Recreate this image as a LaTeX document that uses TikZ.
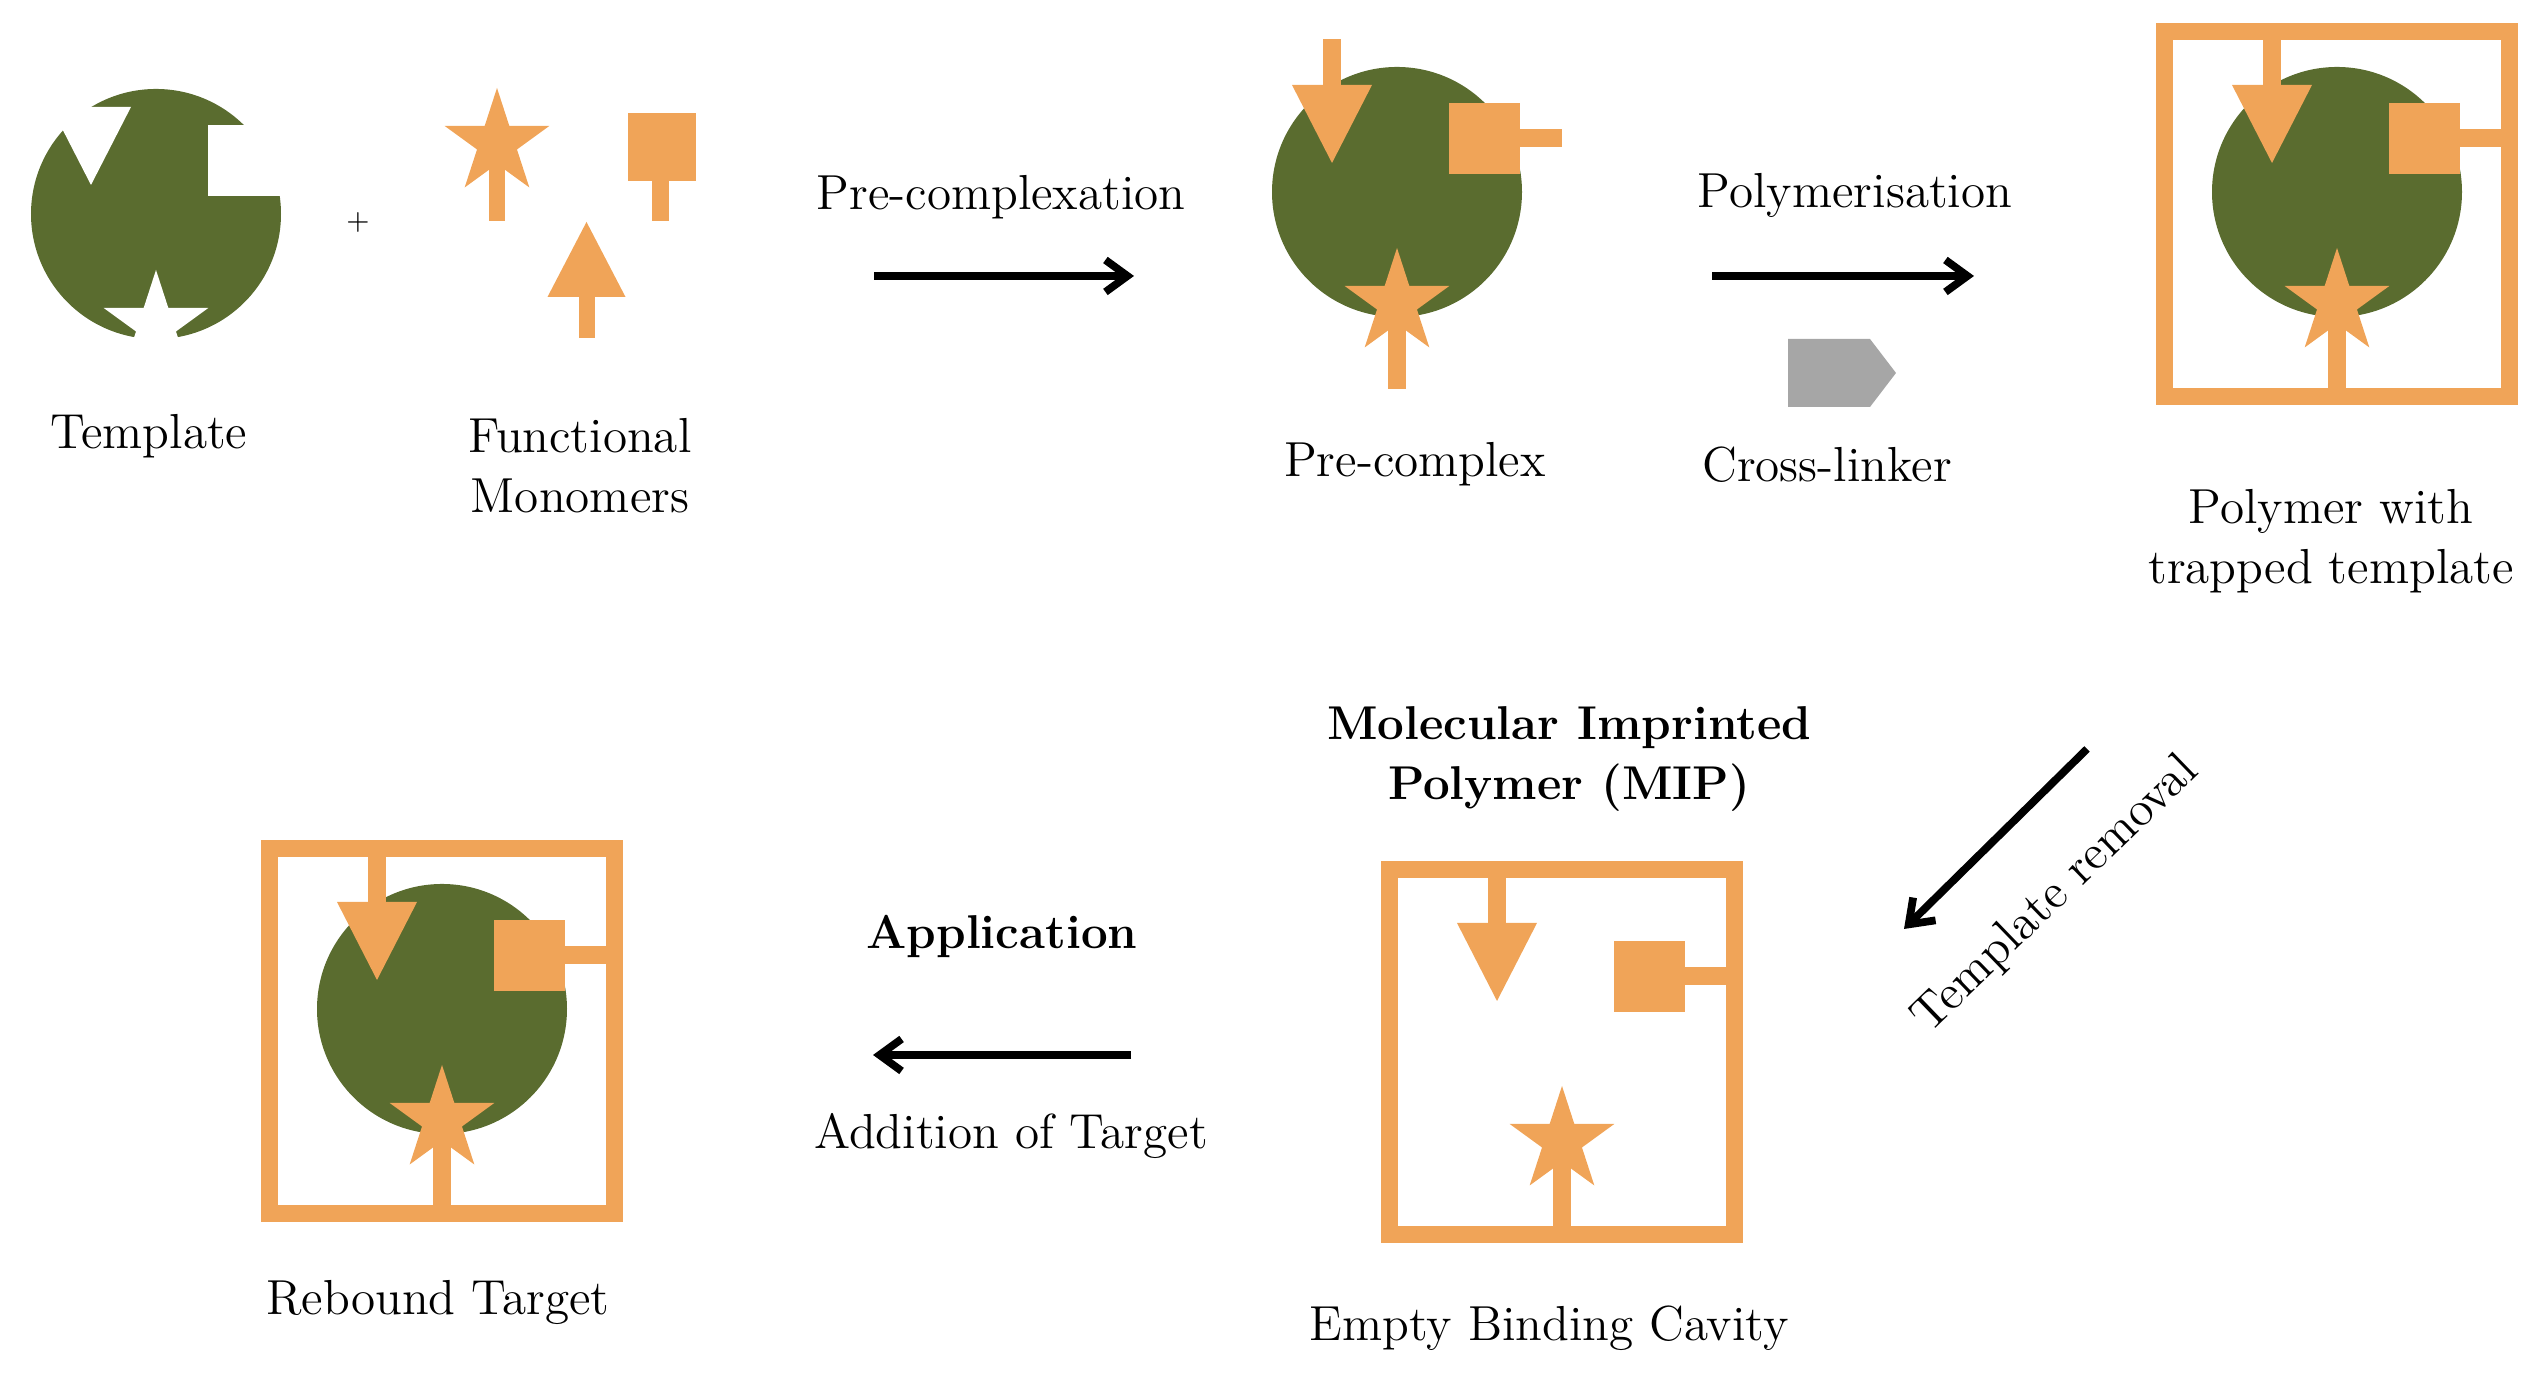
\documentclass[tikz,border=0pt]{standalone}
\usepackage{tikz}
\usetikzlibrary{arrows.meta,positioning}
\definecolor{tmplgreen}{RGB}{90,108,47}
\definecolor{monoorange}{RGB}{240,164,88}
\definecolor{linkgray}{RGB}{166,166,166}
\tikzset{
  txt/.style={font=\fontsize{14}{17}\selectfont, align=center, inner sep=0pt},
  boldtxt/.style={font=\fontsize{13.5}{17}\selectfont\bfseries, align=center, inner sep=0pt},
  steparrow/.style={-{Straight Barb[length=2.2mm,width=3.2mm]}, line width=2.2pt},
  mono/.style={fill=monoorange},
  mipframe/.style={draw=monoorange, line width=1.7mm},
  pics/starshape/.style={code={
    \fill (90:0.55) -- (126:0.21) -- (162:0.55) -- (198:0.21) -- (234:0.55)
      -- (270:0.21) -- (306:0.55) -- (342:0.21) -- (18:0.55) -- (54:0.21) -- cycle;
  }},
  pics/template/.style={code={
    \fill[tmplgreen] (0,0) circle (1.25);
    \fill[white] (-1.05,1.07) -- (-0.25,1.07) -- (-0.65,0.29) -- cycle;
    \fill[white] (0.52,0.18) rectangle (1.3,0.89);
    \pic[fill=white] at (0,-1.11) {starshape};
  }},
  pics/bound/.style={code={
    % arrow from the top
    \fill[mono] (-1.05,1.07) -- (-0.25,1.07) -- (-0.65,0.29) -- cycle;
    \fill[mono] (-0.74,1.06) rectangle (-0.56,1.53);
    % square from the right
    \fill[mono] (0.52,0.18) rectangle (1.23,0.89);
    \fill[mono] (1.22,0.45) rectangle (1.65,0.63);
    % star from below
    \fill[mono] (-0.09,-1.10) rectangle (0.09,-1.97);
    \pic[fill=monoorange] at (0,-1.11) {starshape};
  }},
  pics/cavity/.style={code={
    \pic {bound};
    \draw[mipframe] (-1.73,-2.045) rectangle (1.725,1.605);
  }}
}

\begin{document}
\begin{tikzpicture}
\useasboundingbox (0,0) rectangle (25.33,13.81);

% top row
\coordinate (tmpl) at (1.56,11.67);
\coordinate (pcx) at (13.97,11.89);
\coordinate (poly) at (23.37,11.89);
\pic at (tmpl) {template};
\node[font=\fontsize{8}{9}\selectfont] (plus) at (3.58,11.58) {+};

% free monomers
\fill[mono] (4.89,11.60) rectangle (5.05,12.38);
\pic[fill=monoorange] at (4.97,12.38) {starshape};
\fill[mono] (6.28,12.00) rectangle (6.96,12.68);
\fill[mono] (6.52,11.60) rectangle (6.69,12.01);
\fill[mono] (5.865,11.59) -- (5.475,10.84) -- (6.255,10.84) -- cycle;
\fill[mono] (5.785,10.43) rectangle (5.945,10.85);

\fill[tmplgreen] (pcx) circle (1.25);
\pic at (pcx) {bound};
\fill[tmplgreen] (poly) circle (1.25);
\pic at (poly) {cavity};
\fill[linkgray] (17.88,9.74) -- (18.70,9.74) -- (18.96,10.08) -- (18.70,10.42) -- (17.88,10.42) -- cycle;

\node[txt] (tmpllbl) at (1.49,9.45) {Template};
\node[txt] (monolbl) at (5.80,9.15) {Functional\\Monomers};
\node[txt] (pcxlbl) at (10.01,11.84) {Pre-complexation};
\node[txt] (pcxname) at (14.15,9.17) {Pre-complex};
\node[txt] (polylbl) at (18.55,11.86) {Polymerisation};
\node[txt] (linklbl) at (18.27,9.16) {Cross-linker};
\node[txt] (polyname) at (23.31,8.40) {Polymer with\\trapped template};

\coordinate (pcxA) at (8.74,11.05);
\coordinate (pcxB) at (11.34,11.05);
\coordinate (polyA) at (17.12,11.05);
\coordinate (polyB) at (19.74,11.05);
\draw[steparrow] (pcxA) -- (pcxB);
\draw[steparrow] (polyA) -- (polyB);

% bottom row
\coordinate (rebd) at (4.42,3.72);
\coordinate (mip) at (15.62,3.51);
\fill[tmplgreen] (rebd) circle (1.25);
\pic at (rebd) {cavity};
\pic at (mip) {cavity};

\node[boldtxt] (miplbl) at (15.69,6.22) {Molecular Imprinted\\Polymer (MIP)};
\node[txt] (mipname) at (15.49,0.53) {Empty Binding Cavity};
\node[boldtxt] (applbl) at (10.02,4.44) {Application};
\node[txt] (addlbl) at (10.11,2.45) {Addition of Target};
\node[txt] (rebdname) at (4.38,0.79) {Rebound Target};
\node[txt, rotate=44] (remlbl) at (20.56,4.86) {Template removal};

\coordinate (remA) at (20.87,6.32);
\coordinate (remB) at (19.04,4.52);
\coordinate (appA) at (11.31,3.26);
\coordinate (appB) at (8.73,3.26);
\draw[steparrow] (remA) -- (remB);
\draw[steparrow] (appA) -- (appB);
\end{tikzpicture}
\end{document}
